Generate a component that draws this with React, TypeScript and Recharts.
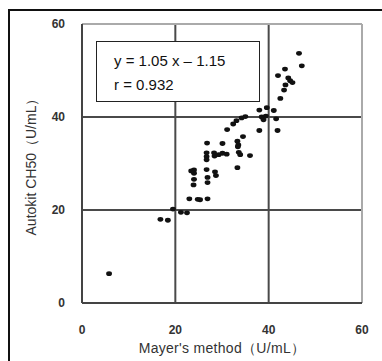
import React from 'react';
import { ScatterChart, Scatter, XAxis, YAxis, CartesianGrid, ReferenceLine, Label } from 'recharts';

// Mayer's method (x) vs Autokit CH50 (y), U/mL
const mayer = [
    5.8, 16.8, 18.4, 19.5, 21.2, 22.5, 23.0, 24.8, 25.3, 26.9,
    23.9, 24.0, 24.0, 24.0, 23.4, 26.7, 26.9, 26.9, 28.5, 28.7,
    26.7, 26.7, 26.7, 28.3, 28.4, 29.3, 30.1, 31.0, 26.8, 30.1,
    33.3, 33.5, 34.5, 33.4, 33.6, 33.9, 36.0, 33.3, 31.1, 32.4,
    33.1, 34.2, 35.0, 38.0, 41.9, 38.5, 38.9, 39.4, 41.6, 38.0,
    39.6, 41.1, 42.5, 43.3, 43.6, 44.2, 44.6, 45.1, 42.0, 43.5,
    46.5, 47.1,
];
const autokit = [
    6.3, 18.0, 17.8, 20.2, 19.5, 19.4, 22.4, 22.3, 22.2, 22.4,
    25.4, 26.6, 27.9, 28.6, 28.4, 28.7, 27.0, 25.9, 28.2, 27.4,
    32.3, 31.5, 30.8, 32.3, 31.6, 31.9, 32.2, 32.0, 34.4, 34.3,
    34.8, 34.0, 35.8, 33.6, 32.4, 31.9, 31.7, 29.1, 37.3, 38.5,
    39.2, 39.8, 40.1, 37.1, 37.1, 40.0, 39.4, 40.2, 39.6, 41.5,
    42.0, 41.4, 44.0, 45.8, 46.9, 48.4, 47.8, 47.4, 48.9, 50.3,
    53.7, 51.0,
];
const ticks = [0, 20, 40, 60];
const equation = 'y = 1.05 x – 1.15';
const correlation = 'r = 0.932';

const points = mayer.map((x, i) => ({ x, y: autokit[i] }));

const Dot = (props: any) => (
    <ellipse cx={props.cx} cy={props.cy} rx={2.9} ry={2.4} fill="#111" />
);

const tickStyle = { fontFamily: 'Liberation Sans, Arial, sans-serif', fontSize: 12, fontWeight: 700, fill: '#333' };
const labelFont = 'Liberation Sans, Arial, sans-serif';

export default function App() {
    return (
        <div style={{ position: 'absolute', left: 0, top: 0, width: 382, height: 361, background: '#fff', overflow: 'hidden' }}>
            <div
                style={{
                    position: 'absolute', left: 8, top: 9, width: 374, height: 352, boxSizing: 'border-box',
                    borderTop: '2px solid #111', borderLeft: '2px solid #111',
                }}
            />
            <ScatterChart width={382} height={361} margin={{ top: 24, right: 20, left: 22, bottom: 28 }} style={{ position: 'absolute', left: 0, top: 0 }}>
                <CartesianGrid stroke="#4a4a4a" strokeWidth={2} />
                <XAxis
                    type="number"
                    dataKey="x"
                    domain={[0, 60]}
                    ticks={ticks}
                    height={30}
                    tickSize={0}
                    tickMargin={22}
                    tick={tickStyle}
                    axisLine={{ stroke: '#444', strokeWidth: 2 }}
                >
                    <Label
                        value="Mayer's method（U/mL）"
                        position="insideBottom"
                        offset={-20}
                        style={{ fontFamily: labelFont, fontSize: 14, fill: '#333', letterSpacing: 0.3 }}
                    />
                </XAxis>
                <YAxis
                    type="number"
                    dataKey="y"
                    domain={[0, 60]}
                    ticks={ticks}
                    width={60}
                    tickSize={0}
                    tickMargin={17}
                    tick={tickStyle}
                    axisLine={{ stroke: '#444', strokeWidth: 2 }}
                >
                    <Label
                        value="Autokit CH50（U/mL）"
                        angle={-90}
                        position="insideLeft"
                        offset={9}
                        style={{ fontFamily: labelFont, fontSize: 14, fill: '#333', textAnchor: 'middle' }}
                    />
                </YAxis>
                <ReferenceLine y={60} stroke="#aaa" strokeWidth={2} />
                <ReferenceLine x={60} stroke="#aaa" strokeWidth={2} />
                <Scatter data={points} shape={Dot} isAnimationActive={false} />
            </ScatterChart>
            <div
                style={{
                    position: 'absolute', left: 96, top: 41, width: 164, height: 61, boxSizing: 'border-box',
                    border: '1.5px solid #222', background: '#fff',
                    fontFamily: labelFont, fontSize: 15, color: '#111', lineHeight: '24px',
                    padding: '7px 0 0 17px',
                }}
            >
                <div>{equation}</div>
                <div>{correlation}</div>
            </div>
        </div>
    );
}
